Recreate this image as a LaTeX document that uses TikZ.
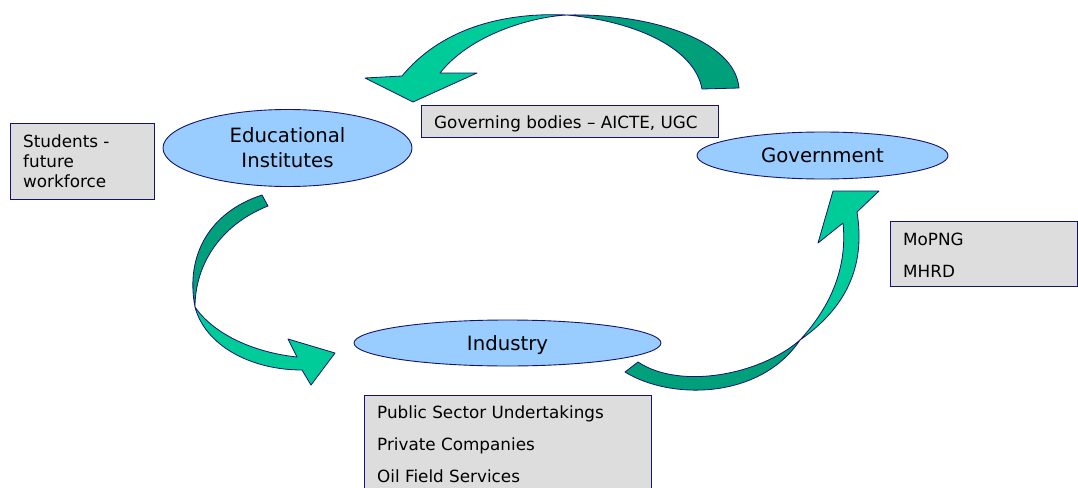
\documentclass[tikz,border=0pt]{standalone}
\usepackage{fontspec}
\setmainfont{DejaVu Sans}
\usetikzlibrary{shapes.geometric}

\definecolor{edge}{RGB}{20,20,110}
\definecolor{ellfill}{RGB}{153,204,255}
\definecolor{boxfill}{RGB}{221,221,221}
\definecolor{teal}{RGB}{0,204,153}
\definecolor{tealdark}{RGB}{0,160,122}

\tikzset{
  ell/.style={ellipse, draw=edge, fill=ellfill, line width=0.9pt, inner sep=0pt,
              align=center, font=\fontsize{19.7}{25}\selectfont},
  panel/.style={rectangle, draw=edge, fill=boxfill, line width=0.9pt, inner sep=0pt,
                anchor=north west},
  boxtext/.style={anchor=west, inner sep=0pt, align=left},
  bandfront/.style={fill=teal, draw=edge, line width=0.8pt, line join=round},
  bandback/.style={fill=tealdark, draw=edge, line width=0.8pt, line join=round}
}

\begin{document}
\begin{tikzpicture}[x=1pt,y=-1pt]
\useasboundingbox (0,0) rectangle (1078,487);
\fill[white] (0,0) rectangle (1078,487);
\clip (0,0) rectangle (1078,487);

% ---- curved block arrows ----
% Government -> Educational Institutes (top)
\path[bandback] (567,15) .. controls (650,13) and (735,40) .. (739,88)
  -- (702,89) .. controls (695,50) and (640,22) .. (567,15) -- cycle;
\path[bandfront] (413,102) -- (365,78) -- (402,76)
  .. controls (440,30) and (500,12) .. (567,15)
  .. controls (530,17) and (470,35) .. (440,73) -- (477,73) -- cycle;

% Educational Institutes -> Industry (left)
\path[bandback] (262,195) .. controls (210,212) and (185,255) .. (195,307)
  .. controls (195,265) and (220,225) .. (268,206) -- cycle;
\path[bandfront] (195,307) .. controls (205,345) and (250,370) .. (302,370)
  -- (311,385) -- (335,353) -- (288,339) -- (297,357)
  .. controls (250,352) and (212,332) .. (195,307) -- cycle;

% Industry -> Government (right)
\path[bandback] (625,372) .. controls (670,400) and (760,400) .. (800,340)
  .. controls (760,375) and (680,390) .. (638,362) -- cycle;
\path[bandfront] (800,340) .. controls (850,305) and (865,262) .. (857,212)
  -- (879,191) -- (833,191) -- (818,243) -- (843,223)
  .. controls (847,262) and (835,302) .. (800,340) -- cycle;

% ---- main actors ----
\node[ell, minimum width=249pt, minimum height=77pt] (edu) at (287.5,148)
  {Educational\\Institutes};
\node[ell, minimum width=251pt, minimum height=47pt] (gov) at (822.5,155.5)
  {Government};
\node[ell, minimum width=307pt, minimum height=46pt, text depth=0pt] (ind) at (507.5,343)
  {Industry};

% ---- annotation boxes ----
\node[panel, minimum width=144pt, minimum height=76pt] (studbox) at (10,123) {};
\node[boxtext, font=\fontsize{16.8}{20}\selectfont] (studtext) at (23,161.7)
  {Students -\\future\\workforce};

\node[panel, minimum width=297pt, minimum height=32pt] (govbodybox) at (421,105) {};
\node[boxtext, font=\fontsize{16.8}{20}\selectfont] (govbodytext) at (434,124)
  {Governing bodies – AICTE, UGC};

\node[panel, minimum width=187pt, minimum height=65pt] (minbox) at (890,221) {};
\node[boxtext, font=\fontsize{16.8}{32}\selectfont] (mintext) at (903,255)
  {MoPNG\\MHRD};

\node[panel, minimum width=287pt, minimum height=120pt] (indbox) at (364,395) {};
\node[boxtext, font=\fontsize{16.8}{32}\selectfont] (indtext) at (377,444.5)
  {Public Sector Undertakings\\Private Companies\\Oil Field Services};
\end{tikzpicture}
\end{document}
